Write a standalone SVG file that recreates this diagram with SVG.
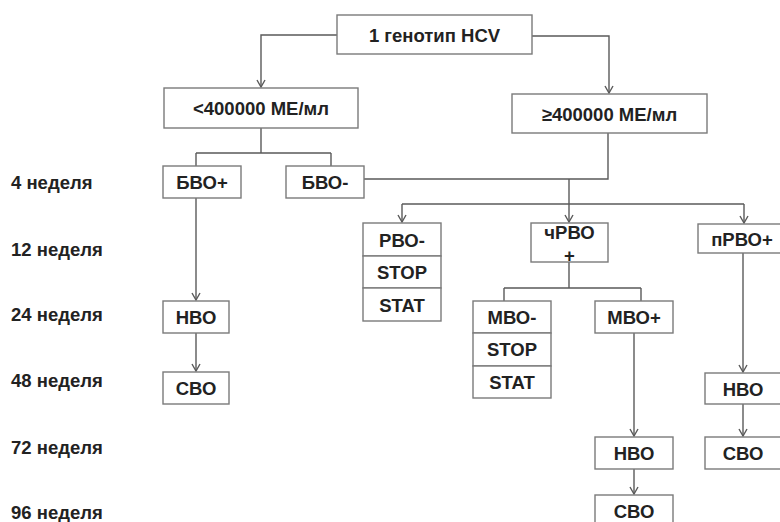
<svg xmlns="http://www.w3.org/2000/svg" width="780" height="522" viewBox="0 0 780 522">
<defs>
<style>
.bx{fill:#fff;stroke:#7a7a7a;stroke-width:1.4}
.ln{fill:none;stroke:#5a5a5a;stroke-width:1.4}
.t{font-family:"Liberation Sans",Arial,sans-serif;font-weight:bold;font-size:18.5px;fill:#222;text-anchor:middle;dominant-baseline:central}
.lb{font-family:"Liberation Sans",Arial,sans-serif;font-weight:bold;font-size:18.5px;fill:#222;dominant-baseline:central}
</style>
<marker id="ar" viewBox="0 0 10 10" refX="9.5" refY="5" markerWidth="10" markerHeight="10" markerUnits="userSpaceOnUse" orient="auto">
<path d="M2.5,1 L9.5,5 L2.5,9" fill="none" stroke="#5a5a5a" stroke-width="1.4"/>
</marker>
</defs>
<rect width="780" height="522" fill="#fff"/>

<g id="labels">
<text class="lb" x="11" y="182">4 неделя</text>
<text class="lb" x="11" y="249">12 неделя</text>
<text class="lb" x="11" y="314">24 неделя</text>
<text class="lb" x="11" y="380">48 неделя</text>
<text class="lb" x="11" y="447">72 неделя</text>
<text class="lb" x="11" y="512">96 неделя</text>
</g>

<g id="connectors">
<path class="ln" d="M337,35 H261 V87" marker-end="url(#ar)"/>
<path class="ln" d="M532,36 H609 V93" marker-end="url(#ar)"/>
<path class="ln" d="M261,128 V153 M196,153 H331 M196,153 V166 M331,153 V166"/>
<path class="ln" d="M364,179 H608 V133"/>
<path class="ln" d="M569,179 V222" marker-end="url(#ar)"/>
<path class="ln" d="M402,204 H744"/>
<path class="ln" d="M402,204 V222" marker-end="url(#ar)"/>
<path class="ln" d="M744,204 V223" marker-end="url(#ar)"/>
<path class="ln" d="M196,198 V300" marker-end="url(#ar)"/>
<path class="ln" d="M196,333 V371" marker-end="url(#ar)"/>
<path class="ln" d="M569,262 V288 M504,288 H641 M504,288 V301 M641,288 V301"/>
<path class="ln" d="M634,333 V436" marker-end="url(#ar)"/>
<path class="ln" d="M634,469 V494" marker-end="url(#ar)"/>
<path class="ln" d="M743,253 V372" marker-end="url(#ar)"/>
<path class="ln" d="M743,404 V436" marker-end="url(#ar)"/>
</g>

<g id="n-root"><rect class="bx" x="337" y="15" width="195" height="39"/><text class="t" x="434.5" y="35">1 генотип HCV</text></g>
<g id="n-low"><rect class="bx" x="164" y="88" width="194" height="40"/><text class="t" x="261" y="108">&lt;400000 МЕ/мл</text></g>
<g id="n-high"><rect class="bx" x="512" y="94" width="195" height="39"/><text class="t" x="609.5" y="114">≥400000 МЕ/мл</text></g>

<g id="n-bvo-plus"><rect class="bx" x="163" y="166" width="78" height="32"/><text class="t" x="202" y="182">БВО+</text></g>
<g id="n-bvo-minus"><rect class="bx" x="286" y="166" width="78" height="32"/><text class="t" x="325" y="182">БВО-</text></g>

<g id="n-rvo-minus">
<rect class="bx" x="363" y="223" width="78" height="33"/><text class="t" x="402" y="240">РВО-</text>
<rect class="bx" x="363" y="256" width="78" height="32"/><text class="t" x="402" y="272">STOP</text>
<rect class="bx" x="363" y="288" width="78" height="33"/><text class="t" x="402" y="305">STAT</text>
</g>
<g id="n-chrvo"><rect class="bx" x="531" y="223" width="77" height="39"/><text class="t" x="569.5" y="232">чРВО</text><text class="t" x="569.5" y="255">+</text></g>
<g id="n-prvo"><rect class="bx" x="698" y="224" width="86" height="29"/><text class="t" x="742" y="239">пРВО+</text></g>

<g id="n-hvo-left"><rect class="bx" x="163" y="301" width="66" height="32"/><text class="t" x="196" y="317">НВО</text></g>
<g id="n-svo-left"><rect class="bx" x="163" y="372" width="66" height="32"/><text class="t" x="196" y="388">СВО</text></g>

<g id="n-mvo-minus">
<rect class="bx" x="473" y="301" width="78" height="32"/><text class="t" x="512" y="317">МВО-</text>
<rect class="bx" x="473" y="333" width="78" height="33"/><text class="t" x="512" y="349.5">STOP</text>
<rect class="bx" x="473" y="366" width="78" height="32"/><text class="t" x="512" y="382">STAT</text>
</g>
<g id="n-mvo-plus"><rect class="bx" x="595" y="301" width="78" height="32"/><text class="t" x="634" y="317">МВО+</text></g>
<g id="n-hvo-mid"><rect class="bx" x="595" y="437" width="78" height="32"/><text class="t" x="634" y="453">НВО</text></g>
<g id="n-svo-mid"><rect class="bx" x="595" y="495" width="78" height="32"/><text class="t" x="634" y="511">СВО</text></g>
<g id="n-hvo-right"><rect class="bx" x="705" y="373" width="80" height="31"/><text class="t" x="743" y="389">НВО</text></g>
<g id="n-svo-right"><rect class="bx" x="705" y="437" width="80" height="32"/><text class="t" x="743" y="453">СВО</text></g>
</svg>
